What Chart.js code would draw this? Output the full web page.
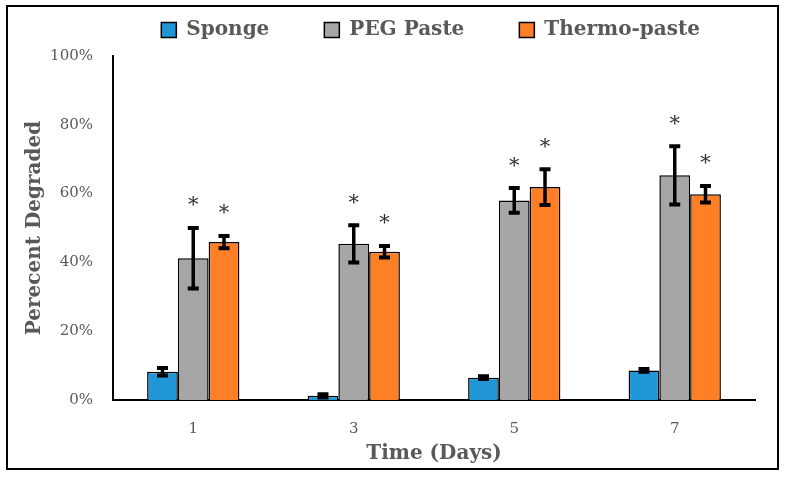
<!DOCTYPE html>
<html>
<head>
<meta charset="utf-8">
<script src="https://cdn.jsdelivr.net/npm/chart.js@4.4.1/dist/chart.umd.min.js"></script>
<style>
  html, body { margin: 0; padding: 0; background: #fff; }
</style>
</head>
<body>
<canvas id="degradado" width="785" height="478"></canvas>
<script>
const days = ['1', '3', '5', '7']

// percent degraded (mean) and error (+/-)
const sponge = [8.2, 1.2, 6.5, 8.6]
const spongeErr = [1.1, 0.5, 0.4, 0.4]
const peg = [41.2, 45.4, 58.0, 65.3]
const pegErr = [8.8, 5.4, 3.6, 8.5]
const thermo = [45.9, 43.1, 61.9, 59.8]
const thermoErr = [1.8, 1.7, 5.2, 2.4]

// significance stars
const spongeSig = [false, false, false, false]
const pegSig = [true, true, true, true]
const thermoSig = [true, true, true, true]

const yTicks = [0, 20, 40, 60, 80, 100]

const fonte = 'DejaVu Serif'
const cinza = '#595959'

const erros = [spongeErr, pegErr, thermoErr]
const estrelas = [spongeSig, pegSig, thermoSig]

// error bars + asterisks
const barrasErro = {
  id: 'barrasErro',
  afterDatasetsDraw(chart) {
    const ctx = chart.ctx
    const y = chart.scales.y
    ctx.save()
    ctx.strokeStyle = '#000'
    chart.data.datasets.forEach((ds, i) => {
      const meta = chart.getDatasetMeta(i)
      meta.data.forEach((bar, j) => {
        const v = ds.data[j]
        const e = erros[i][j]
        const top = y.getPixelForValue(v + e)
        const bot = y.getPixelForValue(v - e)
        ctx.lineWidth = 3.5
        ctx.beginPath()
        ctx.moveTo(bar.x, top)
        ctx.lineTo(bar.x, bot)
        ctx.stroke()
        ctx.lineWidth = 4
        ctx.beginPath()
        ctx.moveTo(bar.x - 5.5, top)
        ctx.lineTo(bar.x + 5.5, top)
        ctx.moveTo(bar.x - 5.5, bot)
        ctx.lineTo(bar.x + 5.5, bot)
        ctx.stroke()
        if (estrelas[i][j]) {
          ctx.fillStyle = '#333'
          ctx.font = '21px ' + fonte
          ctx.textAlign = 'center'
          ctx.textBaseline = 'middle'
          ctx.fillText('*', bar.x, top - 22)
        }
      })
    })
    ctx.restore()
  }
}

// outer frame
const moldura = {
  id: 'moldura',
  afterDraw(chart) {
    const ctx = chart.ctx
    ctx.save()
    ctx.strokeStyle = '#000'
    ctx.lineWidth = 2
    ctx.strokeRect(7, 6, 771, 463)
    ctx.restore()
  }
}

// a bit more room under the legend
const espacoLegenda = {
  id: 'espacoLegenda',
  beforeInit(chart) {
    const fitOriginal = chart.legend.fit
    chart.legend.fit = function () {
      fitOriginal.bind(chart.legend)()
      this.height += 6
    }
  }
}

new Chart(document.getElementById('degradado'), {
  type: 'bar',
  data: {
    labels: days,
    datasets: [
      {
        label: 'Sponge',
        data: sponge,
        backgroundColor: '#2196D6',
        borderColor: '#000',
        borderWidth: 1.5
      },
      {
        label: 'PEG Paste',
        data: peg,
        backgroundColor: '#A6A6A6',
        borderColor: '#000',
        borderWidth: 1.5
      },
      {
        label: 'Thermo-paste',
        data: thermo,
        backgroundColor: '#FF7F27',
        borderColor: '#000',
        borderWidth: 1.5
      }
    ]
  },
  options: {
    responsive: false,
    animation: false,
    categoryPercentage: 0.575,
    barPercentage: 1,
    layout: {
      padding: { top: -35, left: 8, right: 30, bottom: 8 }
    },
    plugins: {
      tooltip: { enabled: false },
      legend: {
        position: 'top',
        align: 'end',
        labels: {
          boxWidth: 15,
          boxHeight: 15,
          padding: 55,
          color: cinza,
          font: { family: fonte, size: 20, weight: 'bold' },
          generateLabels(chart) {
            return chart.data.datasets.map((ds, i) => ({
              text: ds.label,
              fillStyle: ds.backgroundColor,
              strokeStyle: '#000',
              lineWidth: 1.5,
              fontColor: cinza,
              datasetIndex: i
            }))
          }
        }
      }
    },
    scales: {
      x: {
        grid: { display: false, drawTicks: false },
        border: { display: true, color: '#000', width: 2 },
        ticks: {
          color: cinza,
          padding: 20,
          font: { family: fonte, size: 15 }
        },
        title: {
          display: true,
          text: 'Time (Days)',
          color: cinza,
          padding: { top: -16, bottom: 4 },
          font: { family: fonte, size: 20, weight: 'bold' }
        }
      },
      y: {
        min: 0,
        max: 100,
        afterFit(scale) { scale.width = 105 },
        afterBuildTicks(scale) { scale.ticks = yTicks.map(v => ({ value: v })) },
        grid: { display: false, drawTicks: false },
        border: { display: true, color: '#000', width: 2 },
        ticks: {
          color: cinza,
          padding: 20,
          font: { family: fonte, size: 15 },
          callback: v => v + '%'
        },
        title: {
          display: true,
          text: 'Perecent Degraded',
          color: cinza,
          padding: { top: 15, bottom: 0 },
          font: { family: fonte, size: 20, weight: 'bold' }
        }
      }
    }
  },
  plugins: [espacoLegenda, barrasErro, moldura]
})
</script>
</body>
</html>
